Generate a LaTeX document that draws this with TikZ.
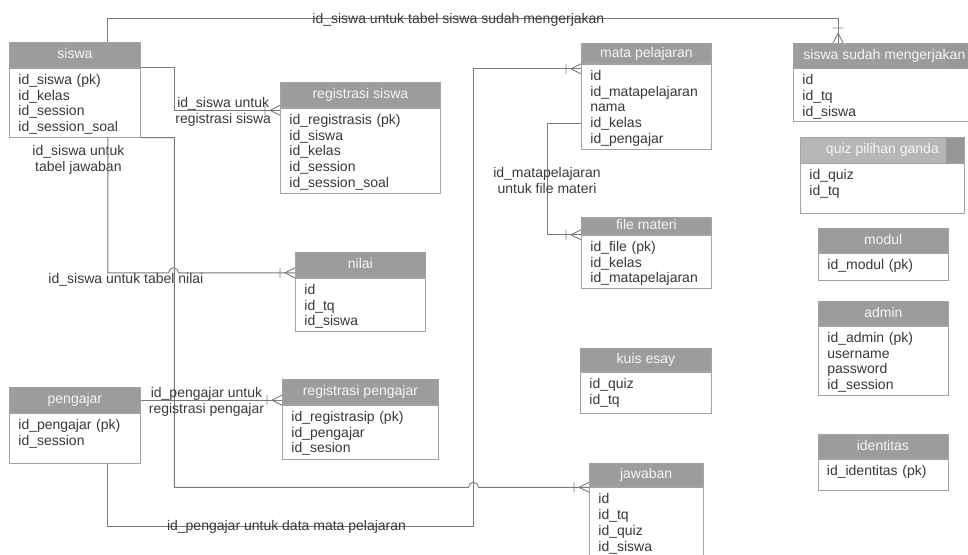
\documentclass[tikz,border=0pt]{standalone}
\usepackage{fontspec}
\setmainfont{Liberation Sans}
\usetikzlibrary{positioning, arrows.meta}
\definecolor{HeadGray}{HTML}{9C9C9C}
\definecolor{HeadLight}{HTML}{B6B6B6}
\definecolor{HeadDark}{HTML}{979797}
\definecolor{HeadText}{HTML}{F6F6F6}
\definecolor{BoxLine}{HTML}{A3A3A3}
\definecolor{RelLine}{HTML}{7A7A7A}
\definecolor{FieldText}{HTML}{383838}
\definecolor{LabelText}{HTML}{3A3A3A}

\pgfdeclarearrow{
  name = Crow,
  setup code = {
    \pgfarrowssettipend{0pt}
    \pgfarrowssetlineend{0pt}
    \pgfarrowssetbackend{-15pt}
    \pgfarrowshullpoint{0pt}{5pt}
    \pgfarrowshullpoint{0pt}{-5pt}
    \pgfarrowshullpoint{-15pt}{5pt}
    \pgfarrowshullpoint{-15pt}{-5pt}
  },
  drawing code = {
    \pgfpathmoveto{\pgfqpoint{0pt}{5pt}}
    \pgfpathlineto{\pgfqpoint{-10pt}{0pt}}
    \pgfpathlineto{\pgfqpoint{0pt}{-5pt}}
    \pgfpathmoveto{\pgfqpoint{-15pt}{5pt}}
    \pgfpathlineto{\pgfqpoint{-15pt}{-5pt}}
    \pgfusepathqstroke
  }
}

\begin{document}
\begin{tikzpicture}[
    x=1pt, y=-1pt,
    font=\fontsize{14}{15.8}\selectfont,
    head/.style={draw=BoxLine, fill=HeadGray, text=HeadText, inner sep=0pt, minimum height=25pt, text height=10pt, text depth=2.5pt, anchor=north west, line width=0.8pt},
    field/.style={draw=BoxLine, fill=white, text=FieldText, align=left, inner xsep=9pt, inner ysep=4pt, text height=12pt, line width=0.8pt},
    darkend/.style={path picture={\fill[HeadDark] ([xshift=-#1]path picture bounding box.north east) rectangle (path picture bounding box.south east);}},
    rel/.style={-{Crow}, draw=RelLine, line width=0.9pt},
    lbl/.style={text=LabelText, inner sep=0pt, align=center}
]
    \useasboundingbox (0,0) rectangle (968,554);

    \node[head, minimum width=131pt] (siswa) at (9,42) {siswa};
    \node[field, below=0pt of siswa.south west, anchor=north west, text width=113pt, text depth=49pt] (siswaF) {id\_siswa (pk)\\id\_kelas\\id\_session\\id\_session\_soal};

    \node[head, minimum width=160pt] (regS) at (280,82) {registrasi siswa};
    \node[field, below=0pt of regS.south west, anchor=north west, text width=142pt, text depth=65pt] (regSF) {id\_registrasis (pk)\\id\_siswa\\id\_kelas\\id\_session\\id\_session\_soal};

    \node[head, minimum width=130pt, minimum height=20pt] (mp) at (581,43) {mata pelajaran};
    \node[field, below=0pt of mp.south west, anchor=north west, text width=112pt, text depth=65pt] (mpF) {id\\id\_matapelajaran\\nama\\id\_kelas\\id\_pengajar};

    \node[head, minimum width=130pt, minimum height=17pt] (fm) at (581,217) {file materi};
    \node[field, below=0pt of fm.south west, anchor=north west, text width=112pt, text depth=33pt] (fmF) {id\_file (pk)\\id\_kelas\\id\_matapelajaran};

    \node[head, darkend=29pt, minimum width=182pt, minimum height=24.5pt] (ssm) at (793,43) {siswa sudah mengerjakan};
    \node[field, below=0pt of ssm.south west, anchor=north west, text width=164pt, text depth=32.5pt] (ssmF) {id\\id\_tq\\id\_siswa};

    \node[head, fill=HeadLight, darkend=18pt, minimum width=164pt, minimum height=25.5pt] (qpg) at (800,137) {quiz pilihan ganda};
    \node[field, below=0pt of qpg.south west, anchor=north west, text width=146pt, text depth=29.5pt] (qpgF) {id\_quiz\\id\_tq};

    \node[head, minimum width=129.5pt, minimum height=24.5pt] (modul) at (818,228) {modul};
    \node[field, below=0pt of modul.south west, anchor=north west, text width=111.5pt, text depth=7pt] (modulF) {id\_modul (pk)};

    \node[head, minimum width=130pt, minimum height=24pt] (admin) at (818,301) {admin};
    \node[field, below=0pt of admin.south west, anchor=north west, text width=112pt, text depth=49pt] (adminF) {id\_admin (pk)\\username\\password\\id\_session};

    \node[head, minimum width=130pt, minimum height=24pt] (idt) at (817.5,434) {identitas};
    \node[field, below=0pt of idt.south west, anchor=north west, text width=112pt, text depth=11.5pt] (idtF) {id\_identitas (pk)};

    \node[head, minimum width=130pt] (nilai) at (295,252) {nilai};
    \node[field, below=0pt of nilai.south west, anchor=north west, text width=112pt, text depth=33pt] (nilaiF) {id\\id\_tq\\id\_siswa};

    \node[head, minimum width=156pt] (regP) at (282,379) {registrasi pengajar};
    \node[field, below=0pt of regP.south west, anchor=north west, text width=138pt, text depth=34pt] (regPF) {id\_registrasip (pk)\\id\_pengajar\\id\_sesion};

    \node[head, minimum width=131pt, minimum height=25.5pt] (pengajar) at (9,387) {pengajar};
    \node[field, below=0pt of pengajar.south west, anchor=north west, text width=113pt, text depth=30pt] (pengajarF) {id\_pengajar (pk)\\id\_session};

    \node[head, minimum width=131pt, minimum height=23pt] (kuis) at (580,348) {kuis esay};
    \node[field, below=0pt of kuis.south west, anchor=north west, text width=113pt, text depth=21pt] (kuisF) {id\_quiz\\id\_tq};

    \node[head, minimum width=113.5pt, minimum height=24pt] (jawab) at (589,462.5) {jawaban};
    \node[field, below=0pt of jawab.south west, anchor=north west, text width=95.5pt, text depth=49pt] (jawabF) {id\\id\_tq\\id\_quiz\\id\_siswa};

    \draw[rel] ([xshift=33pt]siswa.north) -- ++(0,-24)
        -| node[lbl, pos=0.24, yshift=-2pt] {id\_siswa untuk tabel siswa sudah mengerjakan} ([xshift=45pt]ssm.north west);
    \draw[rel] (siswa.south east) -- ++(34,0)
        |- node[lbl, pos=0.73, yshift=-1.5pt] {id\_siswa untuk\\registrasi siswa} ([yshift=-2.5pt]regSF.north west);
    \draw[rel] (siswaF.south east) node[lbl, below=7.5pt of siswaF.south, xshift=3.5pt] {id\_siswa untuk\\tabel jawaban}
        -- ++(33.5,0) |- ([xshift=-120.5pt]jawab.south west)
        arc[start angle=180, end angle=0, radius=5pt] -- (jawab.south west);
    \draw[rel] ([xshift=33pt]siswaF.south)
        |- node[lbl, pos=0.5, xshift=18pt, yshift=-7pt] {id\_siswa untuk tabel nilai} ([xshift=-126.5pt, yshift=5pt]nilai.south west)
        arc[start angle=180, end angle=0, radius=5pt] -- ([yshift=5pt]nilai.south west);
    \draw[rel] (pengajar.east) -- node[lbl, pos=0.465, yshift=-1.5pt] {id\_pengajar untuk\\registrasi pengajar} (pengajar.east -| regP.west);
    \draw[rel] ([xshift=33pt]pengajarF.south) -- ++(0,62.5)
        -- node[lbl, pos=0.488] {id\_pengajar untuk data mata pelajaran} ++(366,0)
        |- ([yshift=-5pt]mpF.north west);
    \draw[rel] ([yshift=-60pt]mpF.north west) -- ++(-34,0)
        |- node[lbl, pos=0.257] {id\_matapelajaran\\untuk file materi} (fm.south west);
\end{tikzpicture}
\end{document}
